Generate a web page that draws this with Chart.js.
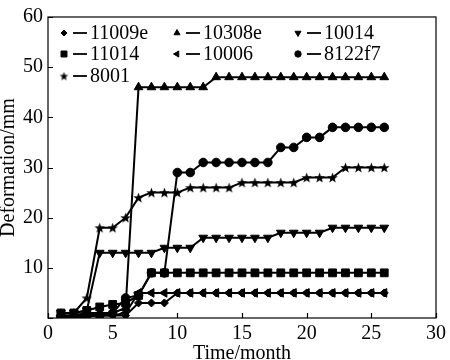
<!DOCTYPE html>
<html>
<head>
<meta charset="utf-8">
<script src="https://cdn.jsdelivr.net/npm/chart.js@4/dist/chart.umd.min.js"></script>
<style>
  html, body { margin: 0; padding: 0; background: #fff; }
  #wrap { width: 450px; height: 360px; }
</style>
</head>
<body>
<div id="wrap"><canvas id="deformChart" width="450" height="360"></canvas></div>
<script>
// months and deformation (mm) per monitoring point
var months = [1, 2, 3, 4, 5, 6, 7, 8, 9, 10, 11, 12, 13, 14, 15, 16, 17, 18, 19, 20, 21, 22, 23, 24, 25, 26];
var s11009e = [0, 0, 0.3, 0.5, 0.5, 0.5, 3, 3, 3, 5, 5, 5, 5, 5, 5, 5, 5, 5, 5, 5, 5, 5, 5, 5, 5, 5];
var s10308e = [0.5, 0.5, 1, 1, 1, 2, 46, 46, 46, 46, 46, 46, 48, 48, 48, 48, 48, 48, 48, 48, 48, 48, 48, 48, 48, 48];
var s10014 = [1, 1, 1.5, 13, 13, 13, 13, 13, 14, 14, 14, 16, 16, 16, 16, 16, 16, 17, 17, 17, 17, 18, 18, 18, 18, 18];
var s11014 = [1, 1, 1.5, 2.2, 2.7, 3, 4.5, 9, 9, 9, 9, 9, 9, 9, 9, 9, 9, 9, 9, 9, 9, 9, 9, 9, 9, 9];
var s10006 = [0.5, 0.5, 1, 0.5, 0.5, 1, 5, 5, 5, 5, 5, 5, 5, 5, 5, 5, 5, 5, 5, 5, 5, 5, 5, 5, 5, 5];
var s8122f7 = [0.3, 0.3, 0.5, 0.5, 1, 4, 4.5, 9, 9, 29, 29, 31, 31, 31, 31, 31, 31, 34, 34, 36, 36, 38, 38, 38, 38, 38];
var s8001 = [1, 1, 4, 18, 18, 20, 24, 25, 25, 25, 26, 26, 26, 26, 27, 27, 27, 27, 27, 28, 28, 28, 30, 30, 30, 30];
var seriesNames = ['11009e', '10308e', '10014', '11014', '10006', '8122f7', '8001'];

var xTicks = [0, 5, 10, 15, 20, 25, 30];
var yTicks = [0, 10, 20, 30, 40, 50, 60];

var FONT = "'Liberation Serif', 'Times New Roman', serif";

// filled five point star, chart.js has no filled star
function makeStar(r) {
    var c = document.createElement('canvas');
    var size = Math.ceil(r * 2) + 2;
    c.width = size;
    c.height = size;
    var g = c.getContext('2d');
    var cx = size / 2, cy = size / 2 + 0.5;
    g.beginPath();
    for (var i = 0; i < 10; i++) {
        var rad = i % 2 === 0 ? r : r * 0.42;
        var a = -Math.PI / 2 + i * Math.PI / 5;
        var px = cx + rad * Math.cos(a), py = cy + rad * Math.sin(a);
        if (i === 0) g.moveTo(px, py); else g.lineTo(px, py);
    }
    g.closePath();
    g.fillStyle = '#000';
    g.fill();
    return c;
}

var starBig = makeStar(5.5);
var starSmall = makeStar(4.5);

function toPoints(vals) {
    return vals.map(function (v, i) { return { x: months[i], y: v }; });
}

var markers = [
    { style: 'rectRot', rotation: 0, radius: 4, legendRadius: 3 },
    { style: 'triangle', rotation: 0, radius: 5, legendRadius: 3.5 },
    { style: 'triangle', rotation: 180, radius: 5, legendRadius: 3.5 },
    { style: 'rect', rotation: 0, radius: 5.5, legendRadius: 4.2 },
    { style: 'triangle', rotation: 270, radius: 5, legendRadius: 3.5 },
    { style: 'circle', rotation: 0, radius: 4.3, legendRadius: 3.2 },
    { style: starBig, rotation: 0, radius: 5, legendRadius: 4, legendStyle: starSmall }
];

var allSeries = [s11009e, s10308e, s10014, s11014, s10006, s8122f7, s8001];

var datasets = allSeries.map(function (vals, i) {
    var m = markers[i];
    return {
        label: seriesNames[i],
        data: toPoints(vals),
        borderColor: '#000',
        backgroundColor: '#000',
        borderWidth: 2,
        tension: 0,
        fill: false,
        pointStyle: m.style,
        rotation: m.rotation,
        pointRadius: m.radius,
        pointBorderWidth: 1,
        pointBorderColor: '#000',
        pointBackgroundColor: '#000'
    };
});

// frame, inward ticks and the in-plot legend
var framePlugin = {
    id: 'frame',
    afterDraw: function (chart) {
        var ctx = chart.ctx, a = chart.chartArea;
        var xs = chart.scales.x, ys = chart.scales.y;
        ctx.save();
        ctx.strokeStyle = '#000';
        ctx.lineWidth = 1.2;
        ctx.strokeRect(a.left, a.top, a.right - a.left, a.bottom - a.top);

        ctx.beginPath();
        xTicks.forEach(function (t) {
            var px = Math.round(xs.getPixelForValue(t)) + 0.5;
            ctx.moveTo(px, a.bottom);
            ctx.lineTo(px, a.bottom - 5);
        });
        yTicks.forEach(function (t) {
            var py = Math.round(ys.getPixelForValue(t)) + 0.5;
            ctx.moveTo(a.left, py);
            ctx.lineTo(a.left + 5, py);
        });
        ctx.stroke();

        // legend: 3 columns inside the plot
        var colX = [16, 129, 250];
        var rowY = [16, 37, 59];
        ctx.font = '20px ' + FONT;
        ctx.textBaseline = 'middle';
        ctx.textAlign = 'left';
        seriesNames.forEach(function (name, i) {
            var m = markers[i];
            var x = a.left + colX[i % 3];
            var y = a.top + rowY[Math.floor(i / 3)];
            ctx.fillStyle = '#000';
            ctx.strokeStyle = '#000';
            ctx.lineWidth = 1;
            Chart.helpers.drawPoint(ctx, {
                pointStyle: m.legendStyle || m.style,
                rotation: m.rotation,
                radius: m.legendRadius,
                borderWidth: 1
            }, x, y);
            ctx.lineWidth = 1.8;
            ctx.beginPath();
            ctx.moveTo(x + 9, y);
            ctx.lineTo(x + 23, y);
            ctx.stroke();
            ctx.fillText(name, x + 26, y + 1);
        });
        ctx.restore();
    }
};

function drawChart() {
    return new Chart(document.getElementById('deformChart'), {
        type: 'line',
        data: { datasets: datasets },
        options: {
            responsive: false,
            animation: false,
            layout: { padding: { top: 6, right: 12, left: 0, bottom: 0 } },
            plugins: {
                legend: { display: false },
                tooltip: { enabled: false }
            },
            scales: {
                x: {
                    type: 'linear',
                    min: 0,
                    max: 30,
                    afterFit: function (scale) { scale.height = 42; },
                    afterBuildTicks: function (scale) {
                        scale.ticks = xTicks.map(function (v) { return { value: v }; });
                    },
                    grid: { display: false, drawTicks: false },
                    border: { display: false },
                    ticks: { color: '#000', padding: 4, font: { family: FONT, size: 20 } },
                    title: {
                        display: true,
                        text: 'Time/month',
                        color: '#000',
                        font: { family: FONT, size: 20 },
                        padding: { top: 0, bottom: -6 }
                    }
                },
                y: {
                    min: 0,
                    max: 60,
                    afterFit: function (scale) { scale.width = 48; },
                    afterBuildTicks: function (scale) {
                        scale.ticks = yTicks.map(function (v) { return { value: v }; });
                    },
                    grid: { display: false, drawTicks: false },
                    border: { display: false },
                    ticks: {
                        color: '#000',
                        padding: 5,
                        font: { family: FONT, size: 20 },
                        callback: function (v) { return v === 0 ? '' : v; }
                    },
                    title: {
                        display: true,
                        text: 'Deformation/mm',
                        color: '#000',
                        font: { family: FONT, size: 20 },
                        padding: { top: -3, bottom: 0 }
                    }
                }
            }
        },
        plugins: [framePlugin]
    });
}

// make sure the serif face is ready before the canvas text is drawn
if (document.fonts && document.fonts.load) {
    document.fonts.load("20px 'Liberation Serif'").then(drawChart, drawChart);
} else {
    drawChart();
}
</script>
</body>
</html>
